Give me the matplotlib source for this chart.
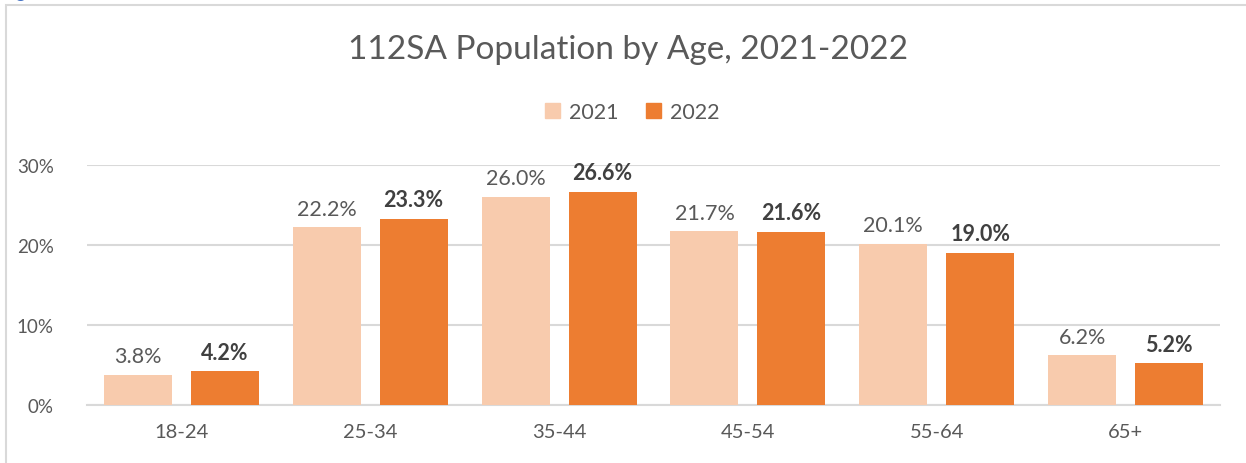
import matplotlib.pyplot as plt
import matplotlib.patches as mpatches
import numpy as np

# data
ages = ["18-24", "25-34", "35-44", "45-54", "55-64", "65+"]
pop_2021 = [3.8, 22.2, 26.0, 21.7, 20.1, 6.2]
pop_2022 = [4.2, 23.3, 26.6, 21.6, 19.0, 5.2]

C21 = "#F8CBAD"
C22 = "#ED7D31"
TXT = "#595959"
GRID = "#D9D9D9"

plt.rcParams["font.family"] = ["Lato", "DejaVu Sans"]

fig = plt.figure(figsize=(12.46, 4.64), dpi=100)
ax = fig.add_axes([87 / 1246, 1 - 406 / 464, (1220 - 87) / 1246, (406 - 166) / 464])

# outer chart frame (continues past the image on right/bottom)
fig.patches.append(mpatches.Rectangle((6 / 1246, -0.1), 1.1, 1 - 6 / 464 + 0.1,
                                      transform=fig.transFigure, fill=False,
                                      edgecolor=GRID, linewidth=1.5))
# cut-off caption above the frame
fig.text(0.0, 1 + 2 / 464, "Figure 10", color="#4472C4", fontsize=14, va="baseline")

x = np.arange(len(ages))
w = 0.36
off = 0.23
b1 = ax.bar(x - off, pop_2021, width=w, color=C21, zorder=3, label="2021")
b2 = ax.bar(x + off, pop_2022, width=w, color=C22, zorder=3, label="2022")

for xi, v in zip(x, pop_2021):
    ax.text(xi - off, v + 1.1, f"{v:.1f}%", ha="center", va="bottom",
            color=TXT, fontsize=15.5, clip_on=False)
for xi, v in zip(x, pop_2022):
    ax.text(xi + off, v + 1.1, f"{v:.1f}%", ha="center", va="bottom",
            color="#404040", fontsize=15.5, fontweight="bold", clip_on=False)

ax.set_xlim(-0.5, len(ages) - 0.5)
ax.set_ylim(0, 30)
ax.set_yticks([0, 10, 20, 30])
ax.set_yticklabels(["0%", "10%", "20%", "30%"])
ax.set_xticks(x)
ax.set_xticklabels(ages)
ax.tick_params(axis="y", length=0, pad=24, labelsize=13.5, labelcolor=TXT)
ax.tick_params(axis="x", length=0, pad=13, labelsize=14.5, labelcolor=TXT)
ax.yaxis.grid(True, color=GRID, linewidth=1.5, zorder=0)
for s in ["top", "right", "left"]:
    ax.spines[s].set_visible(False)
ax.spines["bottom"].set_color(GRID)
ax.spines["bottom"].set_linewidth(1.5)

fig.text(628 / 1246, 1 - 50 / 464, "112SA Population by Age, 2021-2022",
         ha="center", va="center", fontsize=24, color=TXT)

handles = [mpatches.Patch(color=C21, label="2021"),
           mpatches.Patch(color=C22, label="2022")]
fig.legend(handles=handles, loc="center", bbox_to_anchor=(632 / 1246, 1 - 113 / 464),
           ncol=2, frameon=False, fontsize=15.5, labelcolor=TXT,
           handlelength=0.7, handleheight=0.7, handletextpad=0.4, columnspacing=1.3)

fig.savefig("out.png", dpi=100)
